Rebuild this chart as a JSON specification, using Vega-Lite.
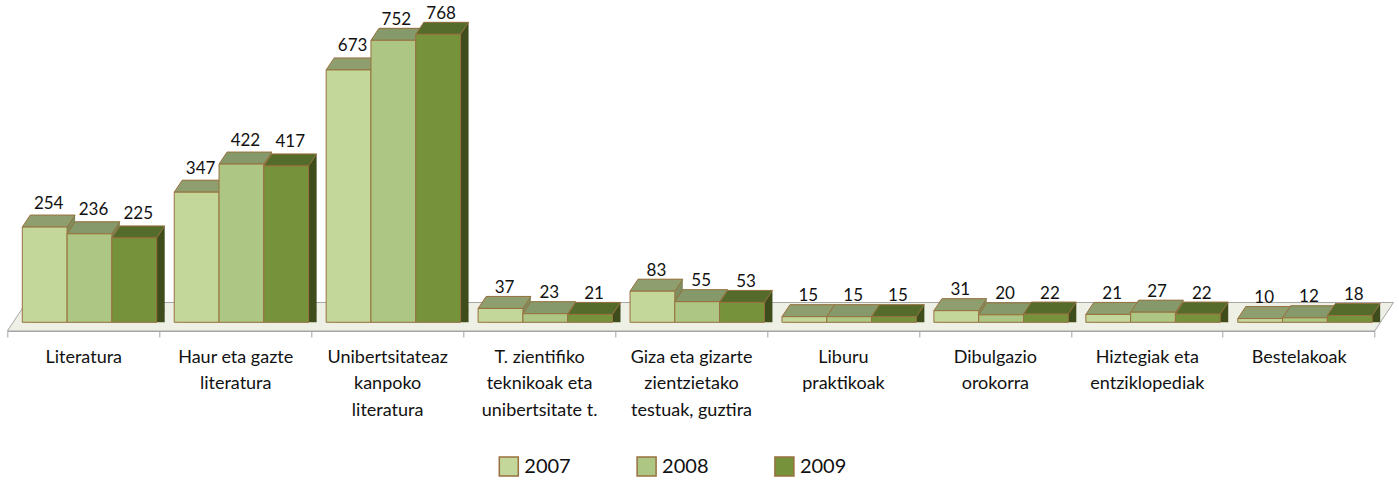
{"$schema":"https://vega.github.io/schema/vega-lite/v6.json","width":1367.4,"height":322.3,"autosize":{"type":"none"},"padding":{"left":7.3,"top":0,"right":24.3,"bottom":159.7},"background":"white","config":{"view":{"stroke":null},"font":"Lato"},
"data":{"values":[
{"cat":"Literatura","year":"2007","v":254},{"cat":"Literatura","year":"2008","v":236},{"cat":"Literatura","year":"2009","v":225},
{"cat":"Haur eta gazte literatura","year":"2007","v":347},{"cat":"Haur eta gazte literatura","year":"2008","v":422},{"cat":"Haur eta gazte literatura","year":"2009","v":417},
{"cat":"Unibertsitateaz kanpoko literatura","year":"2007","v":673},{"cat":"Unibertsitateaz kanpoko literatura","year":"2008","v":752},{"cat":"Unibertsitateaz kanpoko literatura","year":"2009","v":768},
{"cat":"T. zientifiko teknikoak eta unibertsitate t.","year":"2007","v":37},{"cat":"T. zientifiko teknikoak eta unibertsitate t.","year":"2008","v":23},{"cat":"T. zientifiko teknikoak eta unibertsitate t.","year":"2009","v":21},
{"cat":"Giza eta gizarte zientzietako testuak, guztira","year":"2007","v":83},{"cat":"Giza eta gizarte zientzietako testuak, guztira","year":"2008","v":55},{"cat":"Giza eta gizarte zientzietako testuak, guztira","year":"2009","v":53},
{"cat":"Liburu praktikoak","year":"2007","v":15},{"cat":"Liburu praktikoak","year":"2008","v":15},{"cat":"Liburu praktikoak","year":"2009","v":15},
{"cat":"Dibulgazio orokorra","year":"2007","v":31},{"cat":"Dibulgazio orokorra","year":"2008","v":20},{"cat":"Dibulgazio orokorra","year":"2009","v":22},
{"cat":"Hiztegiak eta entziklopediak","year":"2007","v":21},{"cat":"Hiztegiak eta entziklopediak","year":"2008","v":27},{"cat":"Hiztegiak eta entziklopediak","year":"2009","v":22},
{"cat":"Bestelakoak","year":"2007","v":10},{"cat":"Bestelakoak","year":"2008","v":12},{"cat":"Bestelakoak","year":"2009","v":18}
]},
"encoding":{
"x":{"field":"cat","type":"nominal","sort":null,"scale":{"paddingInner":0,"paddingOuter":0,"domain":["Literatura","Haur eta gazte literatura","Unibertsitateaz kanpoko literatura","T. zientifiko teknikoak eta unibertsitate t.","Giza eta gizarte zientzietako testuak, guztira","Liburu praktikoak","Dibulgazio orokorra","Hiztegiak eta entziklopediak","Bestelakoak"]},"title":null,
"axis":{"offset":8.7,"tickBand":"extent","labelAngle":0,"labelFontSize":18,"labelColor":"#111111","labelFont":"Lato","labelPadding":11,"labelLineHeight":26.5,"labelBaseline":"top","labelOverlap":false,"labelLimit":0,"tickSize":6,"tickColor":"#a6a6a6","domainColor":"#a6a6a6","grid":false,
"labelExpr":"{'Literatura':['Literatura'],'Haur eta gazte literatura':['Haur eta gazte','literatura'],'Unibertsitateaz kanpoko literatura':['Unibertsitateaz','kanpoko','literatura'],'T. zientifiko teknikoak eta unibertsitate t.':['T. zientifiko','teknikoak eta','unibertsitate t.'],'Giza eta gizarte zientzietako testuak, guztira':['Giza eta gizarte','zientzietako','testuak, guztira'],'Liburu praktikoak':['Liburu','praktikoak'],'Dibulgazio orokorra':['Dibulgazio','orokorra'],'Hiztegiak eta entziklopediak':['Hiztegiak eta','entziklopediak'],'Bestelakoak':['Bestelakoak']}[datum.label]"}},
"y":{"field":"v","type":"quantitative","stack":null,"scale":{"domain":[0,859.5],"nice":false},"axis":null},
"xOffset":{"field":"year","type":"nominal","scale":{"type":"band","domain":["2007","2008","2009"],"range":[15,149.4],"paddingInner":0,"paddingOuter":0}}
},
"layer":[
{"data":{"values":[{"cat":"Literatura","year":"2008","v":0}]},"mark":{"type":"point","filled":true,"opacity":1,"size":4,"fill":"#eef0e6","stroke":"#a6a6a6","strokeWidth":1,"shape":"M-82.2,8.7L-63.2,-19.8L1304,-19.8L1285.2,8.7Z"}},
{"transform":[{"filter":"datum.year=='2007'"}],"mark":{"type":"bar","fill":"#7f8c5e","yOffset":-12,"y2Offset":-12},"encoding":{"xOffset":{"field":"year","type":"nominal","scale":{"type":"band","domain":["2007","2008","2009"],"range":[23,157.4],"paddingInner":0,"paddingOuter":0}}}},
{"transform":[{"filter":"datum.year=='2007'"}],"mark":{"type":"point","filled":true,"opacity":1,"size":4,"fill":"#8f9e6f","stroke":"#98713f","strokeWidth":1,"shape":"M-22.4,0L-14.4,-12L30.4,-12L22.4,0Z"}},
{"transform":[{"filter":"datum.year=='2007'"}],"mark":{"type":"bar","stroke":"#98713f","strokeWidth":1},"encoding":{"color":{"field":"year","type":"nominal","scale":{"domain":["2007","2008","2009"],"range":["#c4d79b","#aec684","#76933c"]},"title":null,"legend":{"orient":"none","legendX":491,"legendY":456,"direction":"horizontal","columns":3,"columnPadding":62.8,"padding":0,"symbolType":"square","symbolSize":361,"symbolStrokeColor":"#a89a6c","symbolStrokeWidth":1.5,"labelFontSize":20,"labelColor":"#111111","labelFont":"Lato","labelOffset":5}}}},
{"transform":[{"filter":"datum.year=='2008'"}],"mark":{"type":"bar","fill":"#758458","yOffset":-12,"y2Offset":-12},"encoding":{"xOffset":{"field":"year","type":"nominal","scale":{"type":"band","domain":["2007","2008","2009"],"range":[23,157.4],"paddingInner":0,"paddingOuter":0}}}},
{"transform":[{"filter":"datum.year=='2008'"}],"mark":{"type":"point","filled":true,"opacity":1,"size":4,"fill":"#85996a","stroke":"#98713f","strokeWidth":1,"shape":"M-22.4,0L-14.4,-12L30.4,-12L22.4,0Z"}},
{"transform":[{"filter":"datum.year=='2008'"}],"mark":{"type":"bar","stroke":"#98713f","strokeWidth":1},"encoding":{"color":{"field":"year","type":"nominal"}}},
{"transform":[{"filter":"datum.year=='2009'"}],"mark":{"type":"bar","fill":"#3f4c1c","yOffset":-12,"y2Offset":-12},"encoding":{"xOffset":{"field":"year","type":"nominal","scale":{"type":"band","domain":["2007","2008","2009"],"range":[23,157.4],"paddingInner":0,"paddingOuter":0}}}},
{"transform":[{"filter":"datum.year=='2009'"}],"mark":{"type":"point","filled":true,"opacity":1,"size":4,"fill":"#3f4c1c","strokeWidth":0,"shape":"M22.4,0L30.4,-12L22.4,-12Z"},"encoding":{"y":{"datum":0}}},
{"transform":[{"filter":"datum.year=='2009'"}],"mark":{"type":"point","filled":true,"opacity":1,"size":4,"fill":"#556b2b","stroke":"#98713f","strokeWidth":1,"shape":"M-22.4,0L-14.4,-12L30.4,-12L22.4,0Z"}},
{"transform":[{"filter":"datum.year=='2009'"}],"mark":{"type":"bar","stroke":"#98713f","strokeWidth":1},"encoding":{"color":{"field":"year","type":"nominal"}}},
{"transform":[{"filter":"datum.v<100"}],"mark":{"type":"text","dx":4,"dy":-15.5,"baseline":"alphabetic","fontSize":17,"font":"Lato","fill":"#111111"},"encoding":{"text":{"field":"v","type":"quantitative"}}},
{"transform":[{"filter":"datum.v>=100 && datum.v<700"}],"mark":{"type":"text","dx":4,"dy":-18.5,"baseline":"alphabetic","fontSize":17,"font":"Lato","fill":"#111111"},"encoding":{"text":{"field":"v","type":"quantitative"}}},
{"transform":[{"filter":"datum.v>=700"}],"mark":{"type":"text","dx":3,"dy":-15,"baseline":"alphabetic","fontSize":17,"font":"Lato","fill":"#111111"},"encoding":{"text":{"field":"v","type":"quantitative"}}}
],
"resolve":{"scale":{"xOffset":"independent"}}
}
